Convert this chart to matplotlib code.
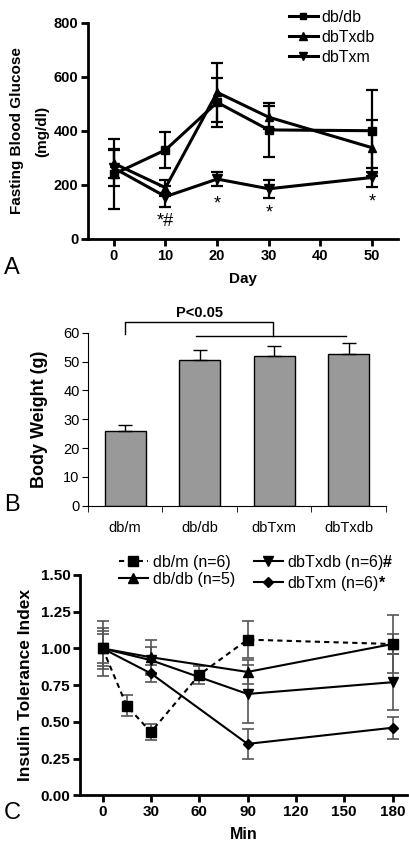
import numpy as np
import matplotlib
matplotlib.use('Agg')
import matplotlib.pyplot as plt
from matplotlib.lines import Line2D

plt.rcParams['font.family'] = ['Liberation Sans', 'DejaVu Sans']
plt.rcParams['mathtext.fontset'] = 'custom'
plt.rcParams['mathtext.bf'] = 'Liberation Sans:bold'
plt.rcParams['mathtext.rm'] = 'Liberation Sans'

# ---- panel A: fasting blood glucose ----
days = [0, 10, 20, 30, 50]
glu_dbdb = [240, 330, 506, 404, 401]
glu_dbdb_err = [130, 67, 90, 100, 151]
glu_dbTxdb = [280, 190, 543, 451, 338]
glu_dbTxdb_err = [55, 30, 108, 42, 103]
glu_dbTxm = [263, 157, 222, 186, 228]
glu_dbTxm_err = [65, 38, 25, 33, 34]
sig_days = [10, 20, 30, 50]
sig_marks = ['*#', '*', '*', '*']
sig_y = [63, 130, 96, 137]

# ---- panel B: body weight ----
groups = ['db/m', 'db/db', 'dbTxm', 'dbTxdb']
weight = [26, 50.5, 52, 52.5]
weight_err = [2, 3.5, 3.5, 4]

# ---- panel C: insulin tolerance ----
min_dbm = [0, 15, 30, 60, 90, 180]
itt_dbm = [1.00, 0.61, 0.43, 0.82, 1.06, 1.03]
itt_dbm_err = [0.19, 0.07, 0.055, 0.06, 0.125, 0.065]
mins = [0, 30, 90, 180]
itt_dbdb = [1.00, 0.94, 0.84, 1.03]
itt_dbdb_err = [0.14, 0.12, 0.08, 0.20]
itt_dbTxdb = [1.00, 0.92, 0.69, 0.77]
itt_dbTxdb_err = [0.12, 0.09, 0.20, 0.19]
itt_dbTxm = [1.00, 0.83, 0.35, 0.46]
itt_dbTxm_err = [0.10, 0.06, 0.10, 0.075]

W, H = 410, 850
fig = plt.figure(figsize=(W / 100, H / 100), dpi=100)


def rect(x0, y0, x1, y1):
    # pixel box -> figure fraction
    return [x0 / W, 1 - y1 / H, (x1 - x0) / W, (y1 - y0) / H]


# ================= A =================
axA = fig.add_axes(rect(88, 23, 398, 239))
ek = dict(ecolor='black', elinewidth=1.6, capsize=4.5, capthick=1.6)
styleA = [('s', 5.5), ('^', 6), ('v', 6.5)]
for vals, errs, (mk, ms) in zip([glu_dbdb, glu_dbTxdb, glu_dbTxm],
                                [glu_dbdb_err, glu_dbTxdb_err, glu_dbTxm_err], styleA):
    axA.errorbar(days, vals, yerr=errs, color='black', lw=2.2, marker=mk, ms=ms, **ek)
for d, m, y in zip(sig_days, sig_marks, sig_y):
    axA.text(d, y, m, ha='center', va='center', fontsize=13)
axA.set_xlim(-5, 55)
axA.set_ylim(0, 800)
axA.set_xticks([0, 10, 20, 30, 40, 50])
axA.set_yticks([0, 200, 400, 600, 800])
for s in ['top', 'right']:
    axA.spines[s].set_visible(False)
for s in ['left', 'bottom']:
    axA.spines[s].set_linewidth(2)
axA.tick_params(width=2, length=5, labelsize=10.5, pad=2)
for t in axA.get_xticklabels() + axA.get_yticklabels():
    t.set_fontweight('bold')
axA.set_xlabel('Day', fontsize=11, fontweight='bold')
axA.xaxis.set_label_coords(0.5, -0.155)
axA.set_ylabel('Fasting Blood Glucose\n(mg/dl)', fontsize=11, fontweight='bold',
               linespacing=2.0)
axA.yaxis.set_label_coords(-0.125, 0.5)
hA = [Line2D([], [], color='black', lw=2.2, marker=mk, ms=ms - 0.5) for mk, ms in styleA]
axA.legend(hA, ['db/db', 'dbTxdb', 'dbTxm'], loc='upper left',
           bbox_to_anchor=(281 / W, 1 - 2 / H),
           bbox_transform=fig.transFigure, frameon=False, fontsize=11.5,
           handlelength=1.8, handletextpad=0.25, labelspacing=0.3, borderpad=0)
fig.text(4 / W, 1 - 268 / H, 'A', fontsize=17, va='center', ha='left')

# ================= B =================
axB = fig.add_axes(rect(88, 332.7, 386, 505.7))
xb = np.arange(len(groups))
axB.bar(xb, weight, width=0.55, color='#999999', edgecolor='black', lw=1)
axB.errorbar(xb, weight, yerr=[np.zeros(len(weight)), weight_err], fmt='none',
             ecolor='black', elinewidth=1, capsize=5, capthick=1)
axB.set_xlim(-0.5, 3.5)
axB.set_ylim(0, 60)
axB.set_yticks(range(0, 61, 10))
axB.set_xticks(xb)
axB.set_xticklabels(groups)
axB.set_xticks(np.arange(-0.5, 4, 1), minor=True)
axB.tick_params(axis='x', which='major', length=0, labelsize=10.5, pad=11)
axB.tick_params(axis='x', which='minor', length=4)
axB.tick_params(axis='y', length=4, labelsize=10.5, pad=2)
for s in ['top', 'right']:
    axB.spines[s].set_visible(False)
axB.set_ylabel('Body Weight (g)', fontsize=13, fontweight='bold')
axB.yaxis.set_label_coords(-0.135, 0.5)
# significance bracket
axB.plot([0, 0, 1.98, 1.98], [59.5, 63.6, 63.6, 59], color='black', lw=1, clip_on=False)
axB.plot([0.95, 2.96], [59, 59], color='black', lw=1, clip_on=False)
axB.text(1.0, 66.7, 'P<0.05', ha='center', va='center', fontsize=10.5,
         fontweight='bold')
fig.text(4 / W, 1 - 505 / H, 'B', fontsize=17, va='center', ha='left')

# ================= C =================
axC = fig.add_axes(rect(80, 575, 407, 795.3))
ec = dict(ecolor='#555555', elinewidth=1.2, capsize=4, capthick=1.2)
dash = (0, (2.5, 2))
axC.errorbar(min_dbm, itt_dbm, yerr=itt_dbm_err, color='black', lw=1.5,
             ls=dash, marker='s', ms=7, **ec)
styleC = [('^', 6.5), ('v', 6.5), ('D', 5)]
for vals, errs, (mk, ms) in zip([itt_dbdb, itt_dbTxdb, itt_dbTxm],
                                [itt_dbdb_err, itt_dbTxdb_err, itt_dbTxm_err], styleC):
    axC.errorbar(mins, vals, yerr=errs, color='black', lw=1.5, marker=mk, ms=ms, **ec)
axC.set_xlim(-14, 189)
axC.set_ylim(0, 1.5)
axC.set_xticks([0, 30, 60, 90, 120, 150, 180])
yt = [0, 0.25, 0.5, 0.75, 1.0, 1.25, 1.5]
axC.set_yticks(yt)
axC.set_yticklabels(['%.2f' % v for v in yt])
for s in ['top', 'right']:
    axC.spines[s].set_visible(False)
for s in ['left', 'bottom']:
    axC.spines[s].set_linewidth(2)
axC.tick_params(width=2, length=5, labelsize=11, pad=2)
for t in axC.get_xticklabels() + axC.get_yticklabels():
    t.set_fontweight('bold')
axC.set_xlabel('Min', fontsize=11.5, fontweight='bold')
axC.xaxis.set_label_coords(0.5, -0.145)
axC.set_ylabel('Insulin Tolerance Index', fontsize=12.5, fontweight='bold')
axC.yaxis.set_label_coords(-0.145, 0.5)
hC = [Line2D([], [], color='black', lw=1.5, ls=dash, marker='s', ms=6.5)]
hC += [Line2D([], [], color='black', lw=1.5, marker=mk, ms=ms) for mk, ms in styleC]
axC.legend([hC[0], hC[1], hC[2], hC[3]],
           ['db/m (n=6)', 'db/db (n=5)', r'dbTxdb (n=6)$\mathbf{\#}$',
            r'dbTxm (n=6)$\mathbf{*}$'],
           ncol=2, loc='upper left', bbox_to_anchor=(111 / W, 1 - 545 / H),
           bbox_transform=fig.transFigure, frameon=False, fontsize=11.5,
           handlelength=1.8, handletextpad=0.3, labelspacing=0.1,
           columnspacing=1.2, borderpad=0)
fig.text(4 / W, 1 - 813 / H, 'C', fontsize=17, va='center', ha='left')

fig.savefig('out.png', dpi=100)
